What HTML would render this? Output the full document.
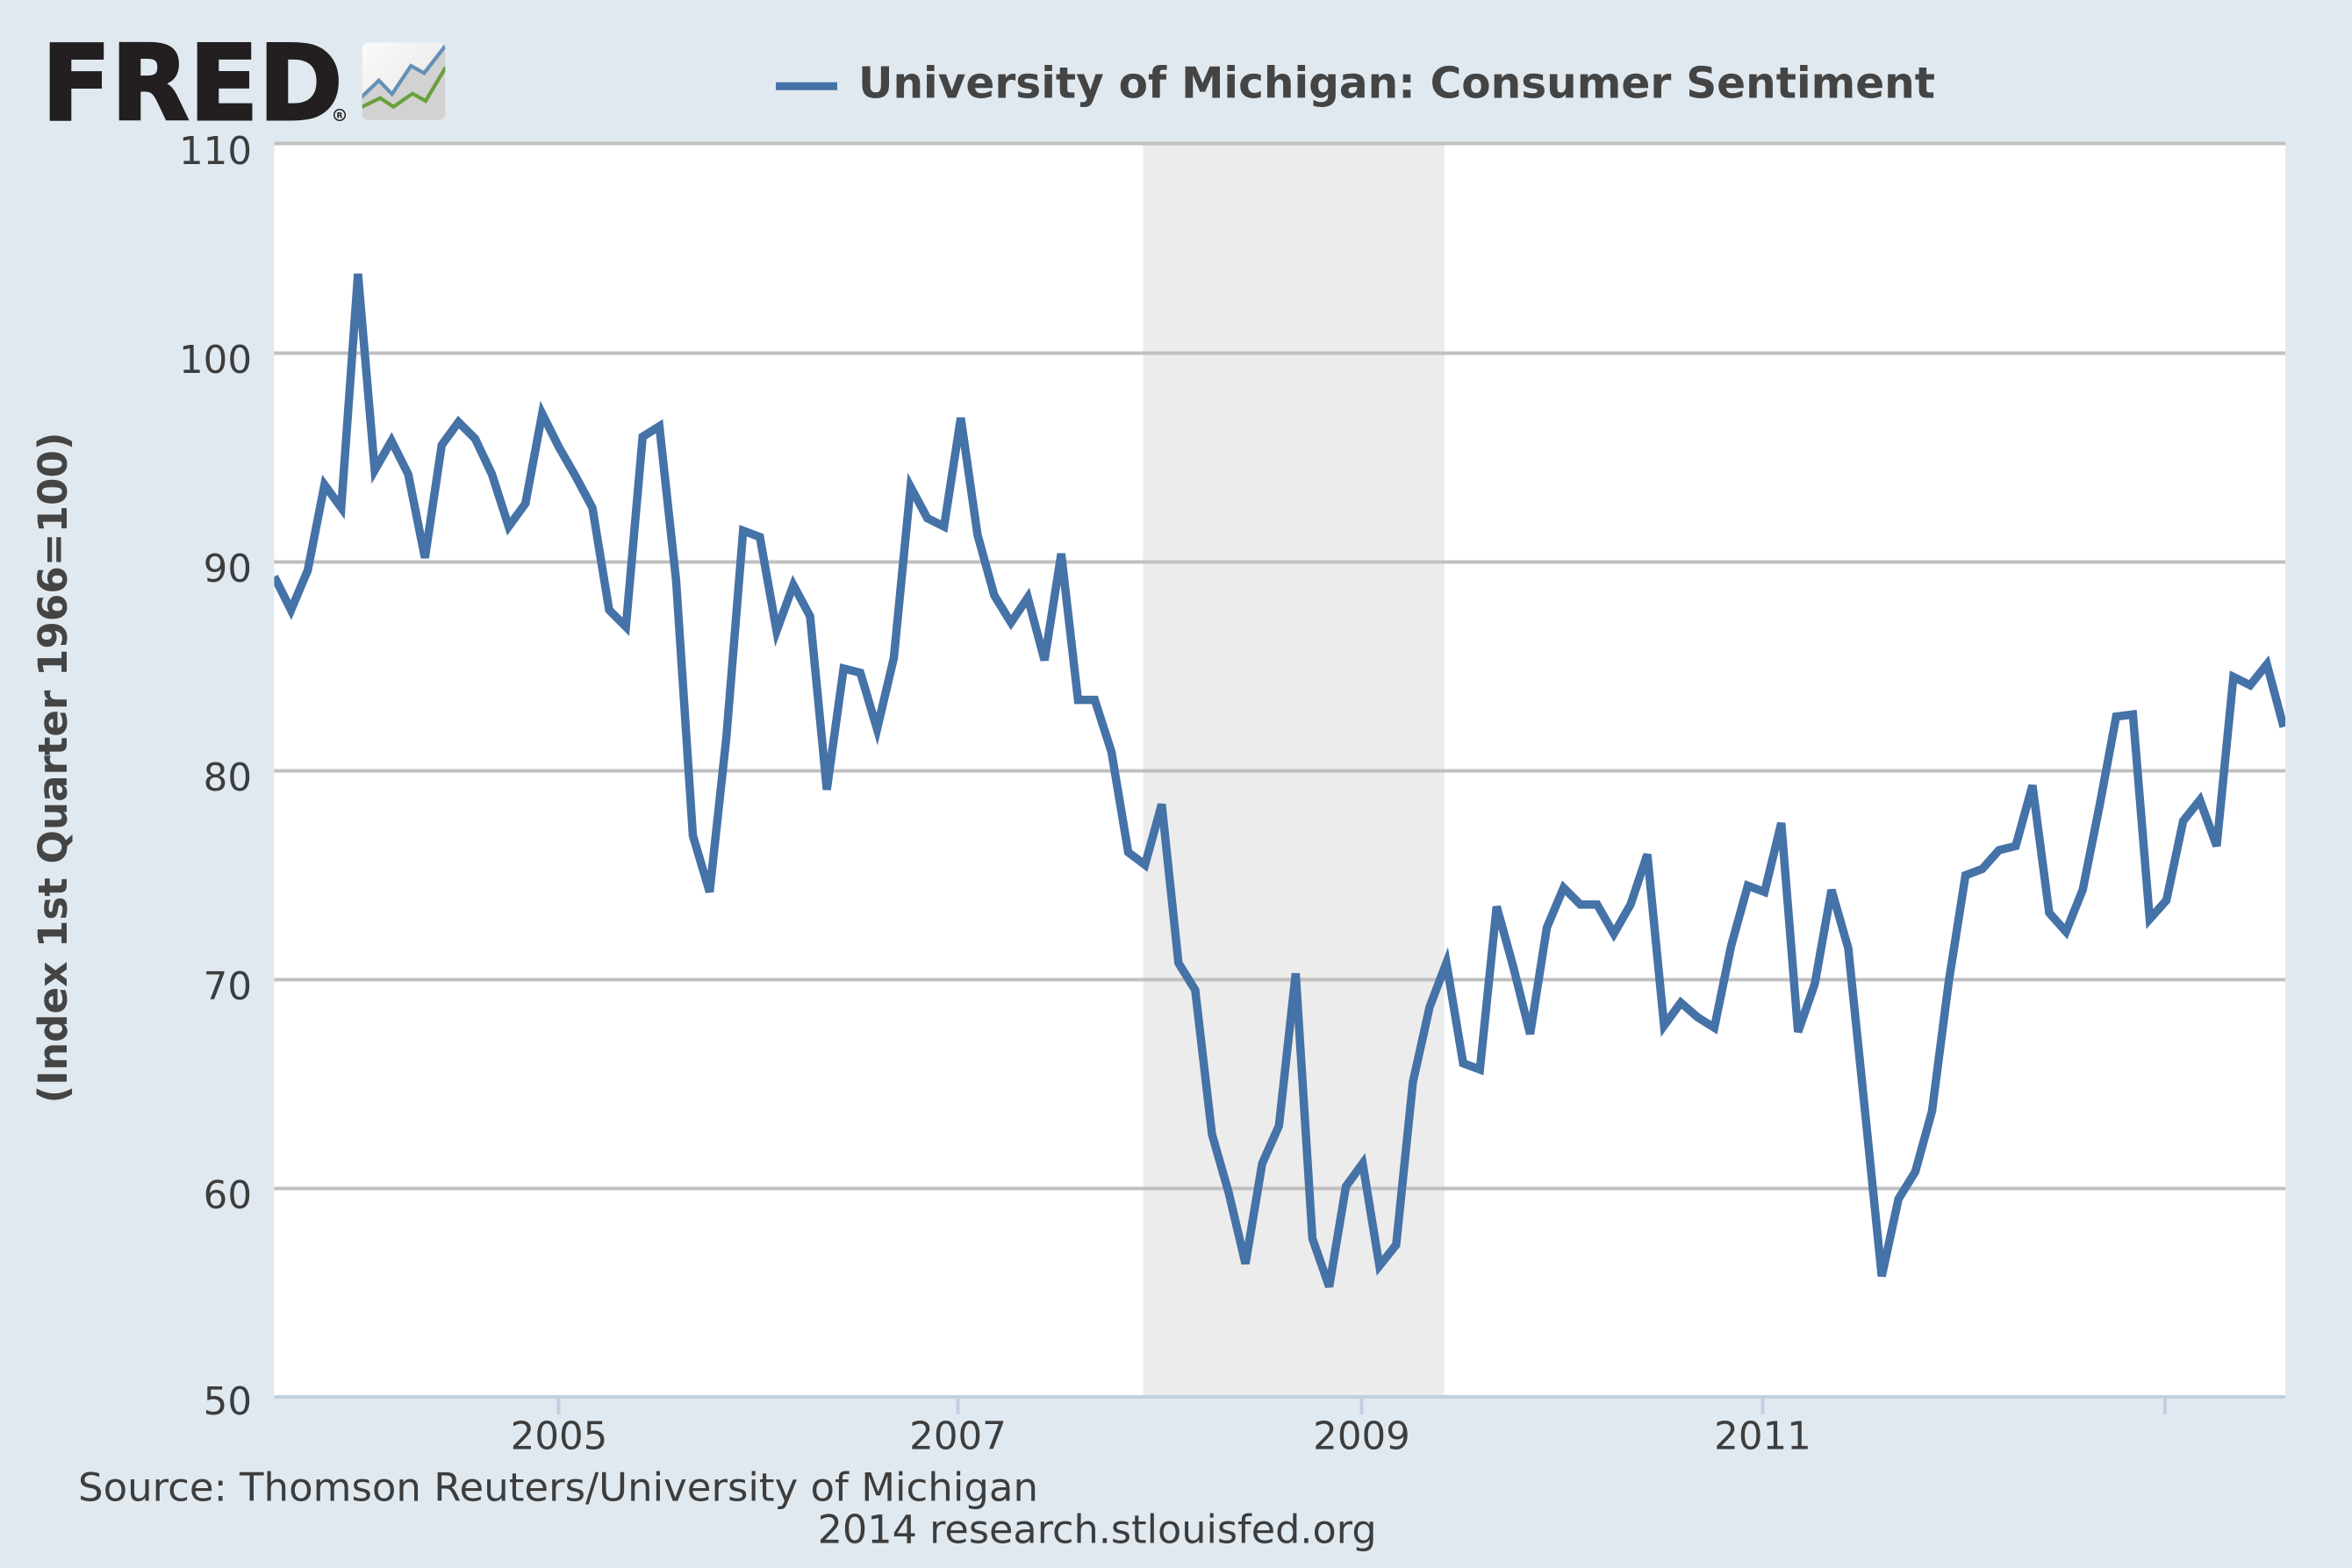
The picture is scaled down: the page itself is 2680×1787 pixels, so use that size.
<!DOCTYPE html>
<html>
<head>
<meta charset="utf-8">
<style>
html,body{margin:0;padding:0;background:#e1e9f0;}
svg{display:block;}
text{font-family:"DejaVu Sans","Liberation Sans",sans-serif;}
</style>
</head>
<body>
<svg width="2680" height="1787" viewBox="0 0 2680 1787" xmlns="http://www.w3.org/2000/svg">
  <defs>
    <linearGradient id="ig" x1="0" y1="0" x2="1" y2="1">
      <stop offset="0" stop-color="#fbfbfb"/>
      <stop offset="1" stop-color="#e2e2e2"/>
    </linearGradient>
    <clipPath id="pc"><rect x="312.5" y="150" width="2291.5" height="1450"/></clipPath>
    <clipPath id="ic"><rect x="412.7" y="48.3" width="94.6" height="88.4" rx="7"/></clipPath>
  </defs>

  <!-- background -->
  <rect x="0" y="0" width="2680" height="1787" fill="#e1e9f0"/>

  <!-- FRED logo -->
  <text x="47.5" y="135.8" font-size="119" font-weight="bold" fill="#231f20" stroke="#231f20" stroke-width="3" stroke-linejoin="miter" textLength="343" lengthAdjust="spacingAndGlyphs">FRED</text>
  <circle cx="387" cy="131" r="6.3" fill="none" stroke="#231f20" stroke-width="1.5"/>
  <text x="387" y="134.5" font-size="9" font-weight="bold" fill="#231f20" text-anchor="middle">R</text>
  <g clip-path="url(#ic)">
    <rect x="412.7" y="48.3" width="94.6" height="88.4" rx="7" fill="url(#ig)"/>
    <polygon points="412.7,110 431.7,91.7 446.7,107.3 468.3,75 483.3,83.3 506.7,53.3 508,53.3 508,137 412.7,137" fill="#d2d2d2"/>
    <polyline points="410,112.5 431.7,91.7 446.7,107.3 468.3,75 483.3,83.3 508,51.5" fill="none" stroke="#6490b6" stroke-width="4.2"/>
    <polyline points="410,123 433.3,111.7 448.3,121.7 470,106.7 485,115 508,76.5" fill="none" stroke="#6aa03e" stroke-width="4.2"/>
  </g>

  <!-- legend -->
  <line x1="884" y1="98.3" x2="954" y2="98.3" stroke="#4572a7" stroke-width="9"/>
  <text x="978" y="111.7" font-size="49" font-weight="bold" fill="#444444" textLength="1227" lengthAdjust="spacingAndGlyphs">University of Michigan: Consumer Sentiment</text>

  <!-- plot area -->
  <rect x="312.5" y="162" width="2291.5" height="1430" fill="#ffffff"/>
  <!-- recession band -->
  <rect x="1302.5" y="162" width="343.4" height="1428.5" fill="#ececec"/>

  <!-- gridlines -->
  <g stroke="#c0c0c0" stroke-width="4">
    <line x1="312.5" y1="163.5" x2="2604" y2="163.5"/>
    <line x1="312.5" y1="402.5" x2="2604" y2="402.5"/>
    <line x1="312.5" y1="640.5" x2="2604" y2="640.5"/>
    <line x1="312.5" y1="878.5" x2="2604" y2="878.5"/>
    <line x1="312.5" y1="1116.5" x2="2604" y2="1116.5"/>
    <line x1="312.5" y1="1354.5" x2="2604" y2="1354.5"/>
  </g>

  <!-- x axis line and ticks -->
  <line x1="312.5" y1="1592" x2="2604" y2="1592" stroke="#c0d0e0" stroke-width="4"/>
  <g stroke="#c0d0e0" stroke-width="4">
    <line x1="636.5" y1="1592" x2="636.5" y2="1612"/>
    <line x1="1091.5" y1="1592" x2="1091.5" y2="1612"/>
    <line x1="1551.5" y1="1592" x2="1551.5" y2="1612"/>
    <line x1="2008.5" y1="1592" x2="2008.5" y2="1612"/>
    <line x1="2467" y1="1592" x2="2467" y2="1612"/>
  </g>

  <!-- series -->
  <g clip-path="url(#pc)">
    <g transform="translate(312.5,2782.5) scale(19.08,-23.8)">
      <polyline fill="none" stroke="#4572a7" stroke-width="9.5" vector-effect="non-scaling-stroke" stroke-linejoin="miter" points="
0,89.3 1,87.7 2,89.6 3,93.7 4,92.6
5,103.8 6,94.4 7,95.8 8,94.2 9,90.2 10,95.6 11,96.7 12,95.9 13,94.2 14,91.7 15,92.8 16,97.1
17,95.5 18,94.1 19,92.6 20,87.7 21,86.9 22,96.0 23,96.5 24,89.1 25,76.9 26,74.2 27,81.6 28,91.5
29,91.2 30,86.7 31,88.9 32,87.4 33,79.1 34,84.9 35,84.7 36,82.0 37,85.4 38,93.6 39,92.1 40,91.7
41,96.9 42,91.3 43,88.4 44,87.1 45,88.3 46,85.3 47,90.4 48,83.4 49,83.4 50,80.9 51,76.1 52,75.5
53,78.4 54,70.8 55,69.5 56,62.6 57,59.8 58,56.4 59,61.2 60,63.0 61,70.3 62,57.6 63,55.3 64,60.1
65,61.2 66,56.3 67,57.3 68,65.1 69,68.7 70,70.8 71,66.0 72,65.7 73,73.5 74,70.6 75,67.4 76,72.5
77,74.4 78,73.6 79,73.6 80,72.2 81,73.6 82,76.0 83,67.8 84,68.9 85,68.2 86,67.7 87,71.6 88,74.5
89,74.2 90,77.5 91,67.5 92,69.8 93,74.3 94,71.5 95,63.7 96,55.8 97,59.5 98,60.8 99,63.7 100,69.9
101,75.0 102,75.3 103,76.2 104,76.4 105,79.3 106,73.2 107,72.3 108,74.3 109,78.3 110,82.6 111,82.7 112,72.9
113,73.8 114,77.6 115,78.6 116,76.4 117,84.5 118,84.1 119,85.1 120,82.1"/>
    </g>
  </g>

  <!-- y axis labels -->
  <g font-size="43.5" fill="#3d3d3d" text-anchor="end">
    <text x="287" y="187">110</text>
    <text x="287" y="425">100</text>
    <text x="287" y="663">90</text>
    <text x="287" y="901">80</text>
    <text x="287" y="1139">70</text>
    <text x="287" y="1377">60</text>
    <text x="287" y="1612">50</text>
  </g>

  <!-- x axis labels -->
  <g font-size="43.5" fill="#3d3d3d" text-anchor="middle">
    <text x="637" y="1651.7">2005</text>
    <text x="1091.5" y="1651.7">2007</text>
    <text x="1551.5" y="1651.7">2009</text>
    <text x="2008.5" y="1651.7">2011</text>
  </g>

  <!-- y axis title -->
  <text transform="translate(76,875) rotate(-90)" text-anchor="middle" font-size="45" font-weight="bold" fill="#444444" textLength="765" lengthAdjust="spacingAndGlyphs">(Index 1st Quarter 1966=100)</text>

  <!-- footer -->
  <text x="89" y="1710.7" font-size="44.5" fill="#3d3d3d" textLength="1094" lengthAdjust="spacingAndGlyphs">Source: Thomson Reuters/University of Michigan</text>
  <text x="931.6" y="1758.3" font-size="44.5" fill="#3d3d3d" textLength="637" lengthAdjust="spacingAndGlyphs">2014 research.stlouisfed.org</text>
</svg>
</body>
</html>
